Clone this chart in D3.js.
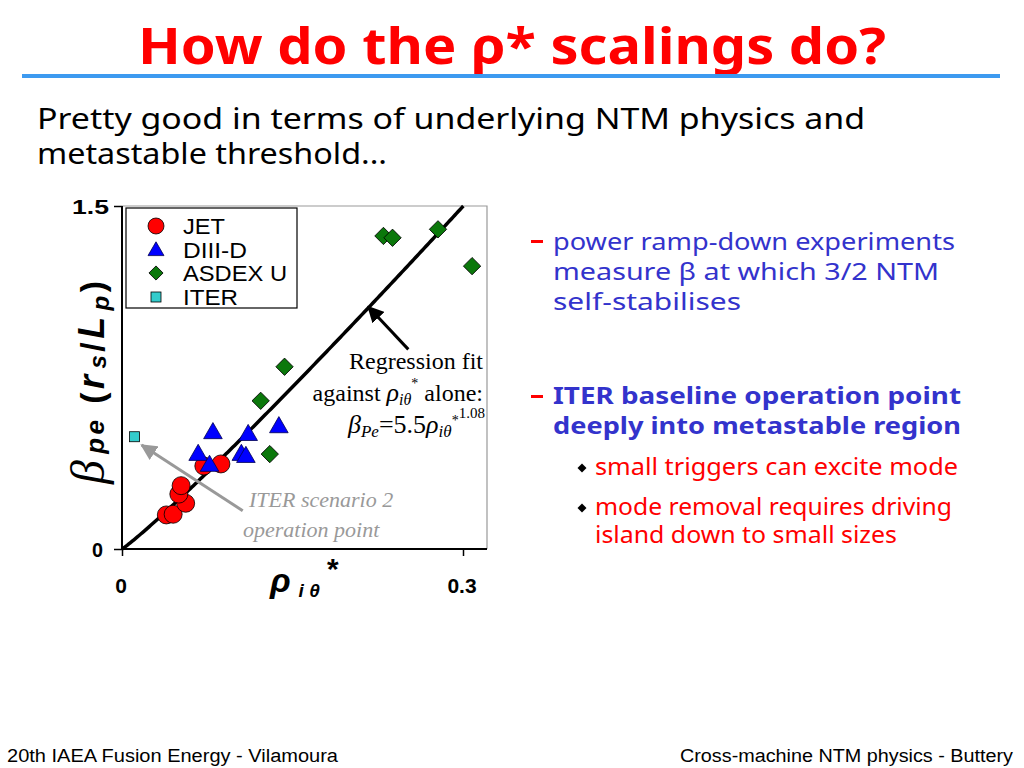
<!DOCTYPE html>
<html>
<head>
<meta charset="utf-8">
<script src="https://cdn.jsdelivr.net/npm/d3@7"></script>
<style>
  body { margin: 0; background: #fff; }
  svg { display: block; }
  .comic { font-family: "Comic Sans MS", "Noto Sans", sans-serif; }
  .serif { font-family: "Liberation Serif", "Times New Roman", serif; }
  .sans { font-family: "Liberation Sans", Arial, sans-serif; }
</style>
</head>
<body>
<svg id="chart" width="1024" height="768"></svg>
<script>
// series values
const jetX = [0.039, 0.045, 0.056, 0.050, 0.052, 0.072, 0.087];
const jetY = [0.149, 0.152, 0.200, 0.240, 0.277, 0.363, 0.372];
const diiidX = [0.067, 0.080, 0.077, 0.111, 0.105, 0.109, 0.138];
const diiidY = [0.411, 0.506, 0.363, 0.498, 0.411, 0.402, 0.532];
const asdexX = [0.143, 0.122, 0.130, 0.230, 0.238, 0.278, 0.308];
const asdexY = [0.797, 0.648, 0.415, 1.369, 1.361, 1.398, 1.237];
const iterX = [0.011];
const iterY = [0.491];
const legendNames = ["JET", "DIII-D", "ASDEX U", "ITER"];
const xTicks = [0, 0.3];
const xTickLabels = ["0", "0.3"];
const yTicks = [0, 1.5];
const yTickLabels = ["0", "1.5"];
// regression fit beta = 5.5 rho^1.08, as printed on the chart
const fitA = 5.5, fitB = 1.08;

const svg = d3.select("#chart");
const x = d3.scaleLinear().domain([0, 0.3]).range([122, 463]);
const y = d3.scaleLinear().domain([0, 1.5]).range([549, 206]);

drawSlide();
drawPlot();
drawText();

function drawSlide() {
    svg.append("text").attr("class", "comic")
        .attr("x", 512).attr("y", 64).attr("text-anchor", "middle")
        .attr("font-size", 50).attr("font-weight", "bold").attr("fill", "#ff0000")
        .attr("textLength", 748).attr("lengthAdjust", "spacingAndGlyphs")
        .text("How do the ρ* scalings do?");
    svg.append("rect").attr("x", 22).attr("y", 74).attr("width", 978).attr("height", 4)
        .attr("fill", "#3d9af0");

    const sub = ["Pretty good in terms of underlying NTM physics and", "metastable threshold..."];
    const subW = [828, 350];
    sub.forEach((s, i) => {
        svg.append("text").attr("class", "comic")
            .attr("x", 37).attr("y", 129 + i * 35)
            .attr("font-size", 29).attr("fill", "#000")
            .attr("textLength", subW[i]).attr("lengthAdjust", "spacingAndGlyphs")
            .text(s);
    });

    svg.append("text").attr("class", "sans")
        .attr("x", 7).attr("y", 762).attr("font-size", 18)
        .attr("textLength", 331).attr("lengthAdjust", "spacingAndGlyphs")
        .text("20th IAEA Fusion Energy - Vilamoura");
    svg.append("text").attr("class", "sans")
        .attr("x", 680).attr("y", 762).attr("font-size", 18)
        .attr("textLength", 333).attr("lengthAdjust", "spacingAndGlyphs")
        .text("Cross-machine NTM physics - Buttery");
}

function drawPlot() {
    const g = svg.append("g");

    // frame
    g.append("path")
        .attr("d", `M${x(0)},${y(1.5)}H487V${y(0)}`)
        .attr("fill", "none").attr("stroke", "#999").attr("stroke-width", 1.2);

    g.append("g").attr("transform", `translate(0,${y(0)})`)
        .call(d3.axisBottom(x).tickValues(xTicks).tickSize(7).tickFormat(""))
        .call(a => a.select(".domain").attr("d", `M${x(0)},0H487`).attr("stroke-width", 2));
    g.append("g").attr("transform", `translate(${x(0)},0)`)
        .call(d3.axisLeft(y).tickValues(yTicks).tickSize(8).tickFormat(""))
        .call(a => a.select(".domain").attr("d", `M0,${y(0)}V${y(1.5)}`).attr("stroke-width", 2));
    g.selectAll(".tick line").attr("stroke-width", 1.5);

    g.selectAll(".ylab").data(yTicks).enter().append("text").attr("class", "sans")
        .attr("x", (d, i) => i === 0 ? 103 : 109).attr("y", d => y(d) + 8).attr("text-anchor", "end")
        .attr("font-size", 21).attr("font-weight", "bold")
        .attr("textLength", (d, i) => i === 0 ? 11 : 37).attr("lengthAdjust", "spacingAndGlyphs")
        .text((d, i) => yTickLabels[i]);
    g.selectAll(".xlab").data(xTicks).enter().append("text").attr("class", "sans")
        .attr("x", d => x(d) - 1).attr("y", 593).attr("text-anchor", "middle")
        .attr("font-size", 21).attr("font-weight", "bold")
        .text((d, i) => xTickLabels[i]);

    // regression curve
    const xEnd = Math.pow(1.5 / fitA, 1 / fitB);
    const fitPts = d3.range(0, 201).map(i => {
        const xv = xEnd * i / 200;
        return [xv, fitA * Math.pow(xv, fitB)];
    });
    g.append("path").datum(fitPts)
        .attr("d", d3.line().x(d => x(d[0])).y(d => y(d[1])))
        .attr("fill", "none").attr("stroke", "#000").attr("stroke-width", 3.5);

    // arrows
    const defs = svg.append("defs");
    [["blk", "#000"], ["gry", "#999"]].forEach(([id, c]) => {
        defs.append("marker").attr("id", id).attr("viewBox", "0 0 10 10")
            .attr("refX", 9).attr("refY", 5).attr("markerWidth", 5.5).attr("markerHeight", 5.5)
            .attr("markerUnits", "strokeWidth").attr("orient", "auto")
            .append("path").attr("d", "M0,0L10,5L0,10Z").attr("fill", c);
    });
    g.append("line")
        .attr("x1", x(0.2519)).attr("y1", y(0.873)).attr("x2", x(0.2167)).attr("y2", y(1.059))
        .attr("stroke", "#000").attr("stroke-width", 3).attr("marker-end", "url(#blk)");
    g.append("line")
        .attr("x1", x(0.1062)).attr("y1", y(0.1675)).attr("x2", x(0.0173)).attr("y2", y(0.4547))
        .attr("stroke", "#999").attr("stroke-width", 3).attr("marker-end", "url(#gry)");

    // points
    const pts = (xs, ys) => xs.map((v, i) => [v, ys[i]]);
    const sq = d3.symbol().type(d3.symbolSquare);
    g.selectAll(".asdex").data(pts(asdexX, asdexY)).enter().append("path")
        .attr("d", sq.size(150)())
        .attr("transform", d => `translate(${x(d[0])},${y(d[1])}) rotate(45)`)
        .attr("fill", "#0b780b").attr("stroke", "#000").attr("stroke-width", 0.8);
    g.selectAll(".jet").data(pts(jetX, jetY)).enter().append("circle")
        .attr("cx", d => x(d[0])).attr("cy", d => y(d[1])).attr("r", 9)
        .attr("fill", "#ff0000").attr("stroke", "#000").attr("stroke-width", 0.8);
    g.selectAll(".diiid").data(pts(diiidX, diiidY)).enter().append("path")
        .attr("d", d3.symbol().type(d3.symbolTriangle).size(150)())
        .attr("transform", d => `translate(${x(d[0])},${y(d[1])})`)
        .attr("fill", "#0000ff").attr("stroke", "#000050").attr("stroke-width", 0.8);
    g.selectAll(".iter").data(pts(iterX, iterY)).enter().append("rect")
        .attr("x", d => x(d[0]) - 5).attr("y", d => y(d[1]) - 5)
        .attr("width", 10).attr("height", 10)
        .attr("fill", "#33cccc").attr("stroke", "#000").attr("stroke-width", 0.8);

    // legend
    const lg = g.append("g");
    lg.append("rect").attr("x", 126).attr("y", 208).attr("width", 171).attr("height", 100)
        .attr("fill", "#fff").attr("stroke", "#000").attr("stroke-width", 1.2);
    const rows = [226, 250, 273, 297];
    const legW = [42, 64, 104, 55];
    lg.append("circle").attr("cx", 156).attr("cy", rows[0]).attr("r", 8)
        .attr("fill", "#ff0000").attr("stroke", "#000").attr("stroke-width", 0.8);
    lg.append("path").attr("d", d3.symbol().type(d3.symbolTriangle).size(110)())
        .attr("transform", `translate(156,${rows[1] + 1})`)
        .attr("fill", "#0000ff").attr("stroke", "#000050").attr("stroke-width", 0.8);
    lg.append("path").attr("d", sq.size(100)())
        .attr("transform", `translate(156,${rows[2]}) rotate(45)`)
        .attr("fill", "#0b780b").attr("stroke", "#000").attr("stroke-width", 0.8);
    lg.append("rect").attr("x", 151).attr("y", rows[3] - 5).attr("width", 10).attr("height", 10)
        .attr("fill", "#33cccc").attr("stroke", "#000").attr("stroke-width", 0.8);
    lg.selectAll(".lt").data(legendNames).enter().append("text").attr("class", "sans")
        .attr("x", 183).attr("y", (d, i) => rows[i] + 8)
        .attr("font-size", 22).attr("fill", "#000")
        .attr("textLength", (d, i) => legW[i]).attr("lengthAdjust", "spacingAndGlyphs")
        .text(d => d);

    // axis titles
    const yl = svg.append("text").attr("class", "sans")
        .attr("transform", "translate(104,484) rotate(-90)")
        .attr("font-weight", "bold").attr("font-style", "italic")
        .attr("textLength", 203).attr("lengthAdjust", "spacing");
    yl.append("tspan").attr("class", "serif").attr("font-size", 48).attr("font-weight", "normal").text("β");
    yl.append("tspan").attr("font-size", 26).attr("dx", 3).text("pe");
    yl.append("tspan").attr("font-size", 34).attr("font-style", "normal").text(" (");
    yl.append("tspan").attr("font-size", 36).text("r");
    yl.append("tspan").attr("font-size", 24).attr("dx", 3).attr("dy", 2).text("s");
    yl.append("tspan").attr("font-size", 34).attr("dy", -2).attr("font-style", "normal").text("/");
    yl.append("tspan").attr("font-size", 36).text("L");
    yl.append("tspan").attr("font-size", 24).attr("dx", 3).attr("dy", 5).text("p");
    yl.append("tspan").attr("font-size", 34).attr("dy", -5).attr("font-style", "normal").text(")");

    const xl = svg.append("text").attr("class", "sans")
        .attr("x", 270).attr("y", 592).attr("font-weight", "bold").attr("font-style", "italic");
    xl.append("tspan").attr("font-size", 34).text("ρ");
    xl.append("tspan").attr("font-size", 19).attr("dx", 8).attr("dy", 5).text("i θ");
    xl.append("tspan").attr("font-size", 30).attr("dx", 6).attr("dy", -18).text("*");

    // annotations
    const ann = svg.append("g").attr("class", "serif").attr("font-size", 24).attr("fill", "#000");
    ann.append("text").attr("x", 483).attr("y", 369).attr("text-anchor", "end").text("Regression fit");
    const t2 = ann.append("text").attr("x", 483).attr("y", 401).attr("text-anchor", "end");
    t2.append("tspan").text("against ");
    t2.append("tspan").attr("font-style", "italic").attr("font-size", 26).text("ρ");
    t2.append("tspan").attr("font-style", "italic").attr("font-size", 16).attr("dy", 4).text("iθ");
    t2.append("tspan").attr("font-size", 14).attr("dy", -17).text("*");
    t2.append("tspan").attr("dy", 13).text(" alone:");
    const t3 = ann.append("text").attr("x", 348).attr("y", 433).attr("font-size", 26);
    t3.append("tspan").attr("font-style", "italic").text("β");
    t3.append("tspan").attr("font-style", "italic").attr("font-size", 17).attr("dy", 4).text("Pe");
    t3.append("tspan").attr("dy", -4).text("=5.5");
    t3.append("tspan").attr("font-style", "italic").text("ρ");
    t3.append("tspan").attr("font-style", "italic").attr("font-size", 17).attr("dy", 4).text("iθ");
    t3.append("tspan").attr("font-size", 14).attr("dy", -12).text("*");
    t3.append("tspan").attr("font-size", 15).attr("dy", -7).text("1.08");

    const ig = svg.append("g").attr("class", "serif").attr("font-size", 22)
        .attr("font-style", "italic").attr("fill", "#999");
    ig.append("text").attr("x", 249).attr("y", 507).text("ITER scenario 2");
    ig.append("text").attr("x", 243).attr("y", 537).text("operation point");
}

function drawText() {
    const blue = "#3333cc", red = "#ff0000";
    const lines = [
        {t: "power ramp-down experiments", x: 553, y: 250, c: blue, w: 402, b: false},
        {t: "measure β at which 3/2 NTM", x: 553, y: 280, c: blue, w: 386, b: false},
        {t: "self-stabilises", x: 553, y: 310, c: blue, w: 188, b: false},
        {t: "ITER baseline operation point", x: 553, y: 404, c: blue, w: 408, b: true},
        {t: "deeply into metastable region", x: 553, y: 434, c: blue, w: 408, b: true},
        {t: "small triggers can excite mode", x: 595, y: 475, c: red, w: 363, b: false},
        {t: "mode removal requires driving", x: 595, y: 515, c: red, w: 357, b: false},
        {t: "island down to small sizes", x: 595, y: 543, c: red, w: 302, b: false}
    ];
    svg.selectAll(".rt").data(lines).enter().append("text").attr("class", "comic")
        .attr("x", d => d.x).attr("y", d => d.y)
        .attr("font-size", 23).attr("fill", d => d.c)
        .attr("font-weight", d => d.b ? "bold" : "normal")
        .attr("textLength", d => d.w).attr("lengthAdjust", "spacingAndGlyphs")
        .text(d => d.t);

    [240, 395].forEach(yy => {
        svg.append("rect").attr("x", 531).attr("y", yy).attr("width", 12).attr("height", 3)
            .attr("fill", red);
    });
    [468, 508].forEach(yy => {
        svg.append("path").attr("d", d3.symbol().type(d3.symbolSquare).size(40)())
            .attr("transform", `translate(582,${yy}) rotate(45)`).attr("fill", "#000");
    });
}
</script>
</body>
</html>
